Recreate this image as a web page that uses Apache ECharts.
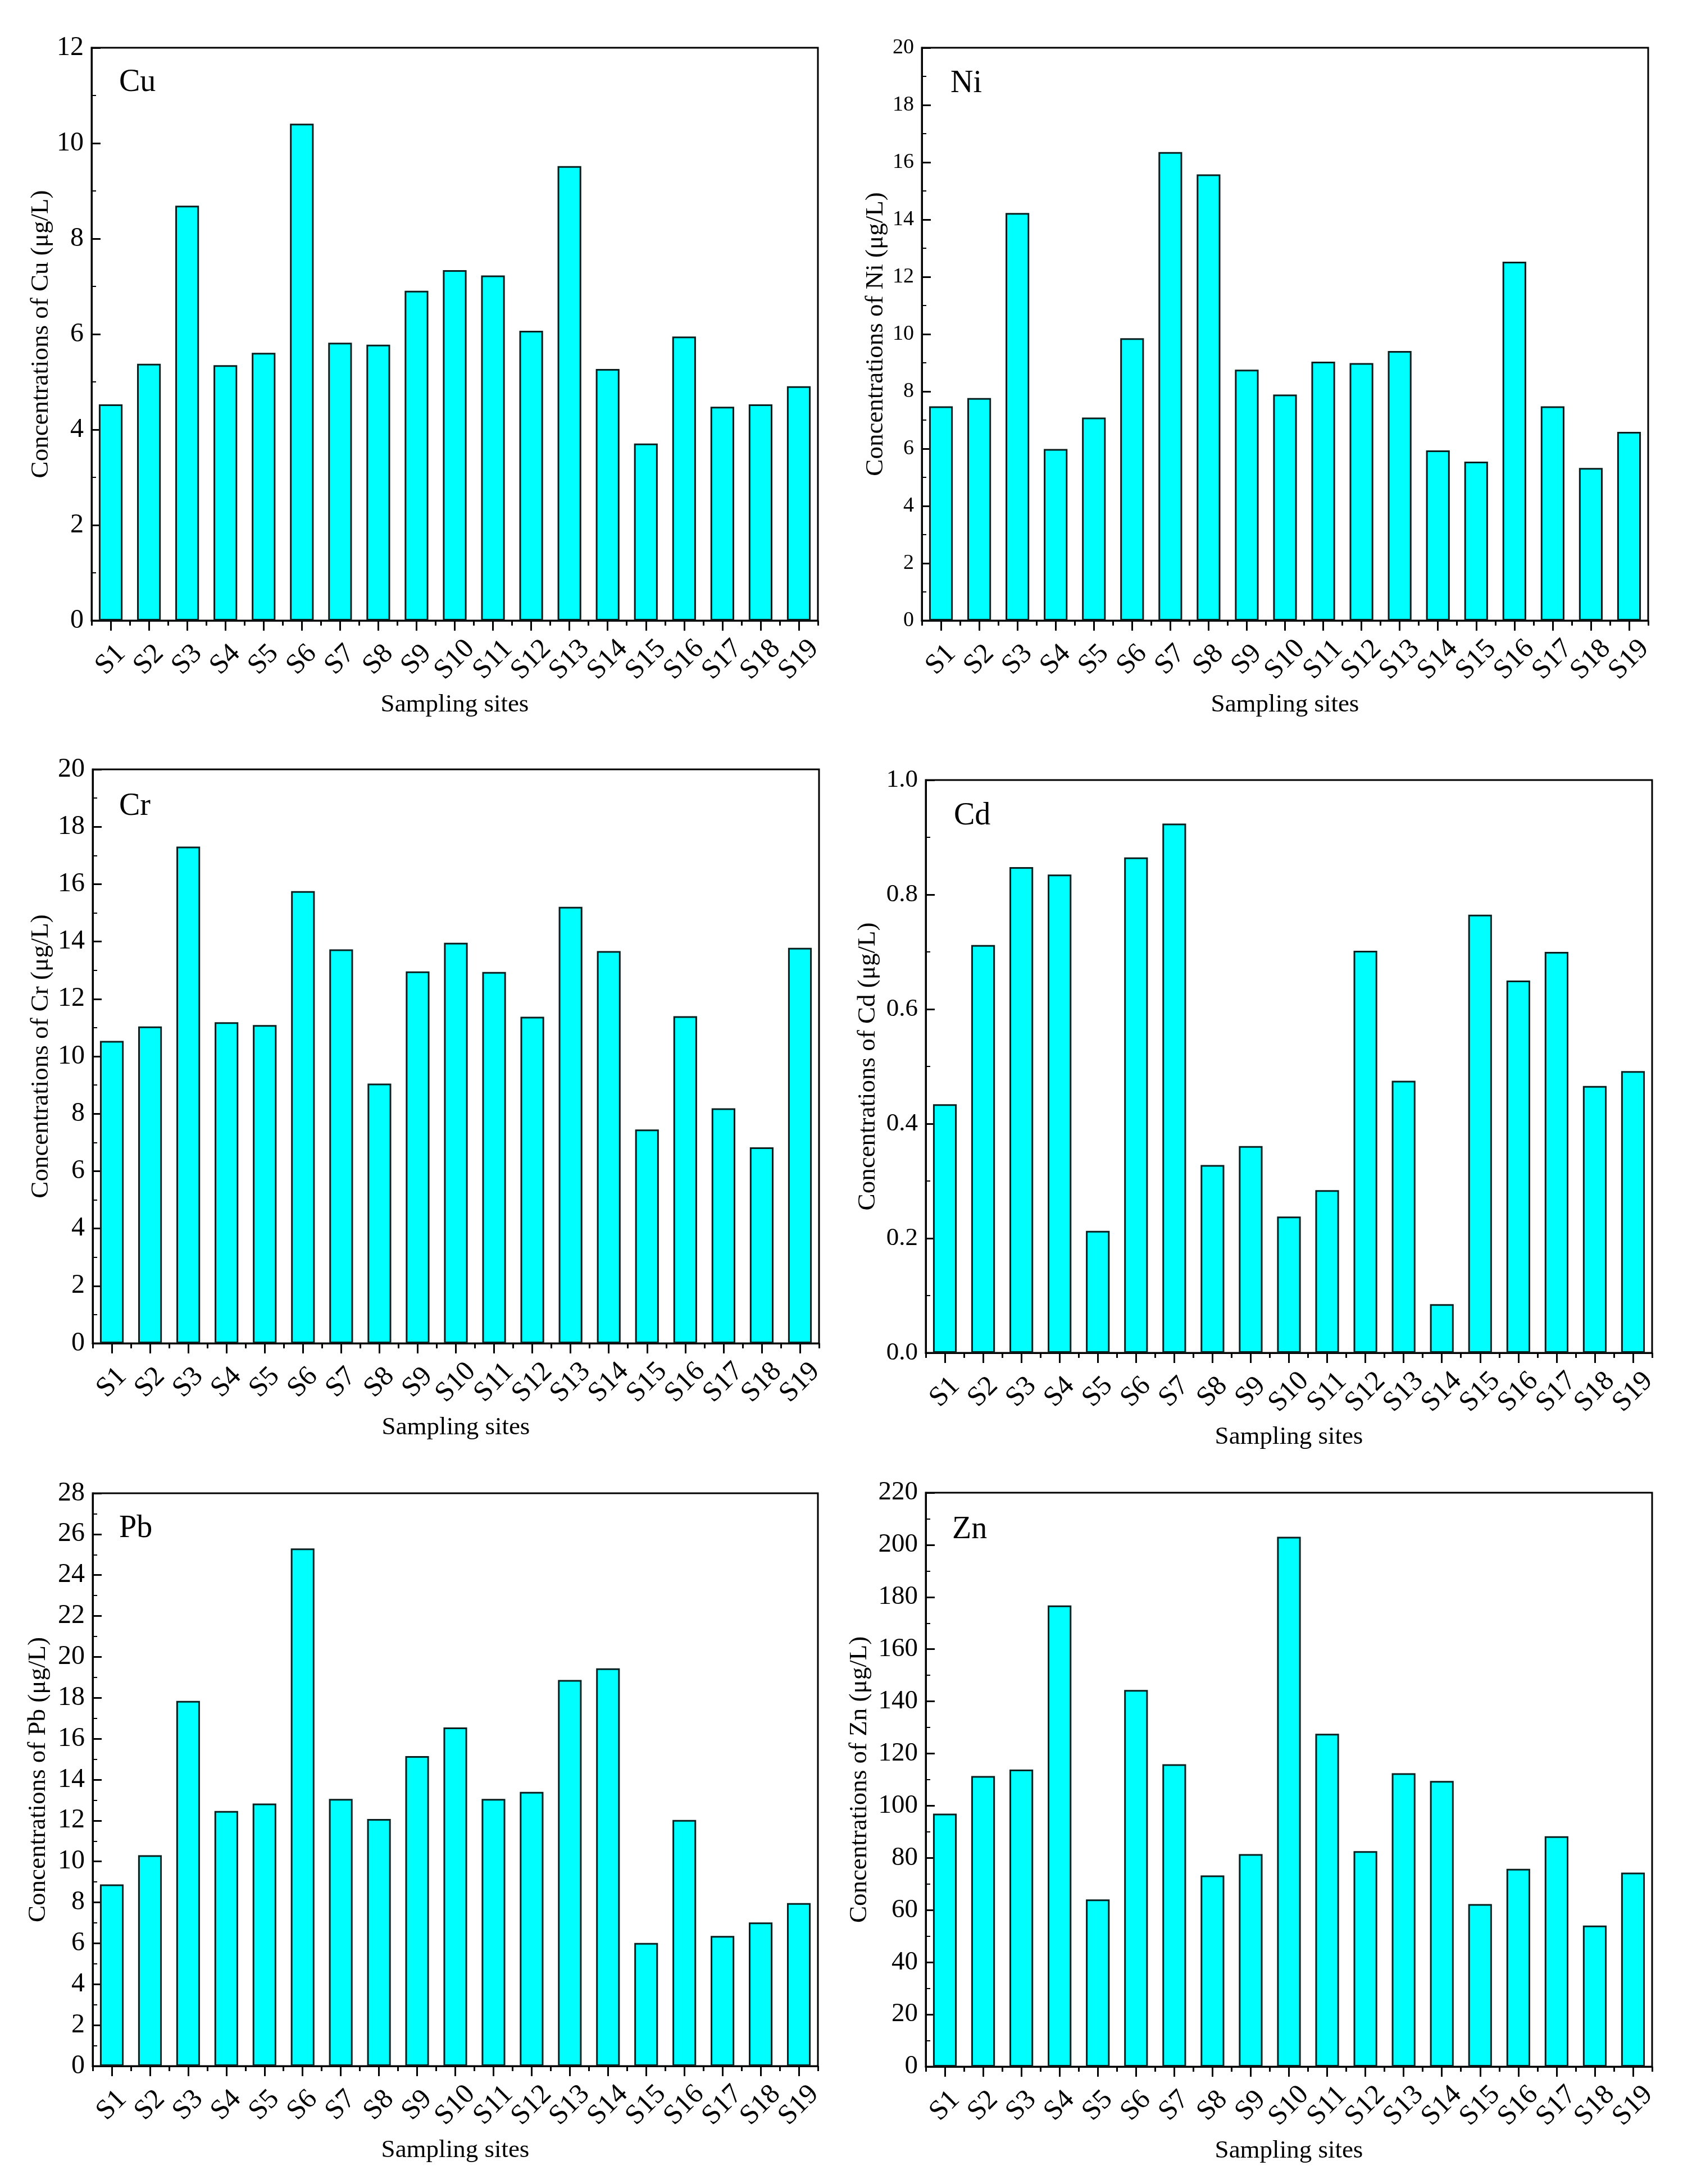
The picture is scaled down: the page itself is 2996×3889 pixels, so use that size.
<!DOCTYPE html>
<html>
<head>
<meta charset="utf-8">
<script src="https://cdn.jsdelivr.net/npm/echarts@6/dist/echarts.min.js"></script>
<style>
html,body{margin:0;padding:0;background:#fff;}
#chart{width:2996px;height:3889px;}
</style>
</head>
<body>
<div id="chart"></div>
<script>
var sites = ['S1','S2','S3','S4','S5','S6','S7','S8','S9','S10','S11','S12','S13','S14','S15','S16','S17','S18','S19'];
var cuValues = [4.53,5.38,8.69,5.35,5.61,10.41,5.82,5.78,6.91,7.34,7.23,6.07,9.52,5.27,3.71,5.95,4.48,4.53,4.91];
var niValues = [7.48,7.77,14.23,5.99,7.09,9.86,16.36,15.58,8.76,7.89,9.04,8.99,9.41,5.94,5.55,12.53,7.48,5.33,6.59];
var crValues = [10.54,11.04,17.31,11.19,11.09,15.76,13.73,9.05,12.96,13.96,12.94,11.38,15.21,13.67,7.45,11.40,8.19,6.83,13.78];
var cdValues = [0.434,0.712,0.848,0.835,0.213,0.865,0.924,0.328,0.361,0.238,0.284,0.702,0.475,0.085,0.765,0.650,0.700,0.466,0.492];
var pbValues = [8.88,10.31,17.85,12.47,12.83,25.30,13.06,12.08,15.15,16.55,13.06,13.40,18.87,19.44,6.02,12.03,6.36,7.02,7.97];
var znValues = [97.0,111.4,113.9,176.8,64.1,144.4,115.9,73.3,81.5,203.1,127.6,82.6,112.5,109.5,62.3,75.8,88.3,54.1,74.4];

var elements = ['Cu','Ni','Cr','Cd','Pb','Zn'];
var seriesValues = [cuValues, niValues, crValues, cdValues, pbValues, znValues];
var yMax = [12, 20, 20, 1.0, 28, 220];
var yInterval = [2, 2, 2, 0.2, 2, 20];
var yDecimals = [0, 0, 0, 1, 0, 0];
var xTitle = 'Sampling sites';

// layout (pixels)
var grids = [
  {left:163, top:85, width:1293, height:1020},
  {left:1641, top:85, width:1293, height:1020},
  {left:165, top:1370, width:1293, height:1022},
  {left:1648, top:1389, width:1293, height:1020},
  {left:165, top:2659, width:1291, height:1020},
  {left:1648, top:2658, width:1293, height:1022}
];
var labelPos = [[212,119],[1692,121],[212,1408],[1698,1425],[212,2694],[1695,2696]];
var yNameGap = [67, 59, 69, 80, 74, 95];
var yLabelSize = [48, 38, 48, 45, 48, 47];

var FONT = '"Liberation Serif", "Times New Roman", serif';

var option = {
  backgroundColor: '#ffffff',
  animation: false,
  title: [],
  grid: [],
  xAxis: [],
  yAxis: [],
  series: []
};

for (var i = 0; i < 6; i++) {
  var g = grids[i];
  option.grid.push({
    left: g.left, top: g.top, width: g.width, height: g.height,
    show: true, borderColor: '#000', borderWidth: 3, containLabel: false
  });
  option.title.push({
    text: elements[i], left: labelPos[i][0], top: labelPos[i][1], padding: 0,
    textStyle: {fontFamily: FONT, fontSize: 56, fontWeight: 'normal', color: '#000'}
  });
  // main category axis (major ticks at categories)
  option.xAxis.push({
    type: 'category', gridIndex: i, data: sites, position: 'bottom',
    name: xTitle, nameLocation: 'middle', nameGap: 128,
    nameTextStyle: {fontFamily: FONT, fontSize: 45, color: '#000'},
    axisLine: {show: true, lineStyle: {color: '#000', width: 3}},
    axisTick: {show: true, alignWithLabel: true, inside: false, length: 18, lineStyle: {color: '#000', width: 3}},
    axisLabel: {show: true, rotate: 45, margin: 70, align: 'center', verticalAlign: 'middle',
      fontFamily: FONT, fontSize: 50, color: '#000', interval: 0},
    splitLine: {show: false}
  });
  // secondary axis used only for minor ticks between categories
  option.xAxis.push({
    type: 'category', gridIndex: i, data: sites, position: 'bottom',
    axisLine: {show: false},
    axisTick: {show: true, alignWithLabel: false, inside: false, length: 9, lineStyle: {color: '#000', width: 3}},
    axisLabel: {show: false},
    splitLine: {show: false}
  });
  (function(dec){
    option.yAxis.push({
      type: 'value', gridIndex: i, min: 0, max: yMax[i], interval: yInterval[i],
      name: 'Concentrations of ' + elements[i] + ' (\u03bcg/L)',
      nameLocation: 'middle', nameGap: yNameGap[i], nameRotate: 90,
      nameTextStyle: {fontFamily: FONT, fontSize: 45, color: '#000'},
      axisLine: {show: true, lineStyle: {color: '#000', width: 3}},
      axisTick: {show: true, inside: true, length: 16, lineStyle: {color: '#000', width: 3}},
      minorTick: {show: true, splitNumber: 2, length: 8, lineStyle: {color: '#000', width: 2}},
      axisLabel: {show: true, margin: 14, fontFamily: FONT, fontSize: yLabelSize[i], color: '#000',
        formatter: function(v){ return v.toFixed(dec); }},
      splitLine: {show: false}
    });
  })(yDecimals[i]);
  option.series.push({
    type: 'bar', xAxisIndex: i * 2, yAxisIndex: i, data: seriesValues[i],
    barWidth: '62%',
    itemStyle: {color: '#00FFFF', borderColor: '#0b1f1f', borderWidth: 3}
  });
}

var chart = echarts.init(document.getElementById('chart'), null, {renderer: 'canvas'});
chart.setOption(option);
</script>
</body>
</html>
